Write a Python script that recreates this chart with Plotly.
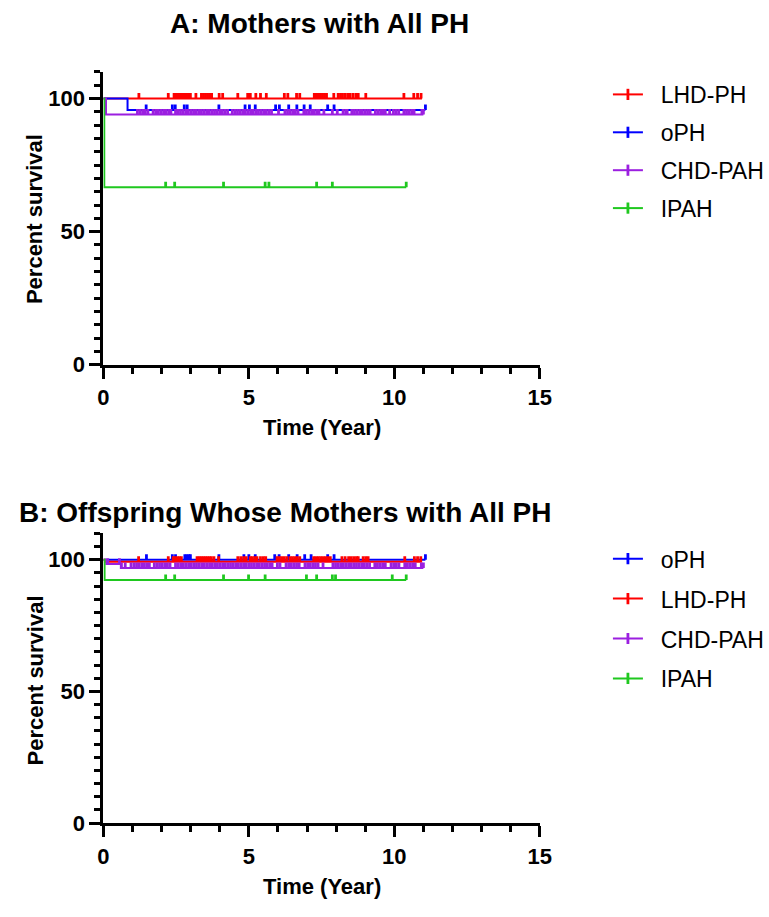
import plotly.graph_objects as go

W, H = 769, 917

# ---------------- data ----------------
# Panel A: Mothers with All PH  (step survival: event times / survival %)
A_LHD_t = [0, 10.95]
A_LHD_s = [100, 100]
A_LHD_c = [1.22, 2.23, 2.43, 2.50, 2.57, 2.64, 2.71, 2.78, 2.85, 2.92, 2.99, 3.18, 3.37, 3.44,
           3.51, 3.58, 3.65, 3.72, 3.98, 4.10, 4.62, 4.96, 5.05, 5.24, 5.40, 5.60, 6.22, 6.34,
           6.64, 6.75, 7.25, 7.32, 7.39, 7.46, 7.53, 7.60, 7.67, 7.92, 8.07, 8.15, 8.22, 8.31,
           8.40, 8.48, 8.58, 8.68, 8.76, 9.02, 10.33, 10.67, 10.80, 10.92]

A_oPH_t = [0, 0.83, 11.07]
A_oPH_s = [100, 95.7, 95.7]
A_oPH_c = [1.47, 2.37, 2.47, 2.78, 2.88, 3.97, 4.87, 5.02, 5.22, 5.92, 6.05, 6.37, 6.65, 6.90,
           7.11, 7.71, 7.93, 11.07]

A_CHD_t = [0, 0.09, 11.0]
A_CHD_s = [100, 94.0, 94.0]
A_CHD_c = [1.17, 1.26, 1.35, 1.44, 1.53, 1.71, 1.80, 1.89, 1.98, 2.07, 2.16, 2.25, 2.32, 2.48,
           2.56, 2.65, 2.74, 2.83, 2.92, 3.01, 3.10, 3.19, 3.28, 3.37, 3.46, 3.55, 3.64, 3.73,
           3.82, 3.91, 4.00, 4.09, 4.18, 4.27, 4.43, 4.52, 4.61, 4.70, 4.79, 4.88, 4.97, 5.06,
           5.15, 5.24, 5.33, 5.42, 5.51, 5.60, 5.69, 5.78, 6.02, 6.24, 6.33, 6.42, 6.51, 6.60,
           6.69, 6.89, 6.98, 7.07, 7.16, 7.25, 7.34, 7.41, 7.58, 7.87, 8.04, 8.24, 8.33, 8.38,
           8.54, 8.63, 8.72, 8.81, 8.90, 8.99, 9.08, 9.17, 9.35, 9.44, 9.53, 9.62, 9.69, 9.84,
           9.97, 10.06, 10.15, 10.33, 10.42, 10.51, 10.60, 10.68, 10.95, 11.00]

A_IPAH_t = [0, 0.03, 10.41]
A_IPAH_s = [100, 66.7, 66.7]
A_IPAH_c = [2.14, 2.45, 4.13, 5.56, 5.69, 7.33, 7.87, 10.41]

# Panel B: Offspring Whose Mothers with All PH
B_oPH_t = [0, 11.07]
B_oPH_s = [100, 100]
B_oPH_c = [1.48, 2.37, 2.48, 2.80, 2.87, 2.94, 2.99, 3.97, 4.83, 5.00, 5.22, 5.89, 6.04, 6.37,
           6.66, 6.92, 7.14, 7.71, 7.93, 11.07]

B_LHD_t = [0, 0.05, 10.95]
B_LHD_s = [100, 99.2, 99.2]
B_LHD_c = [1.21, 2.23, 2.40, 2.47, 2.54, 2.61, 2.68, 3.22, 3.29, 3.36, 3.43, 3.50, 3.57, 3.64,
           3.71, 3.80, 3.96, 4.62, 4.72, 4.82, 4.91, 5.05, 5.12, 5.20, 5.28, 5.40, 5.50, 5.58,
           5.97, 6.05, 6.13, 6.22, 6.31, 6.42, 6.50, 6.58, 6.66, 6.75, 7.23, 7.31, 7.39, 7.47,
           7.55, 7.63, 7.71, 7.80, 8.20, 8.31, 8.43, 8.52, 8.61, 8.70, 8.76, 8.93, 9.02, 9.10,
           10.36, 10.69, 10.80, 10.91]

B_CHD_t = [0, 0.10, 0.60, 11.0]
B_CHD_s = [100, 98.4, 96.8, 96.8]
B_CHD_c = [0.15, 0.55, 0.62, 0.75, 0.95, 1.05, 1.14, 1.23, 1.32, 1.41, 1.50, 1.58, 1.75, 1.84,
           1.93, 2.02, 2.11, 2.20, 2.29, 2.48, 2.57, 2.66, 2.75, 2.84, 2.93, 3.02, 3.11, 3.20,
           3.29, 3.38, 3.47, 3.56, 3.65, 3.74, 3.83, 3.92, 4.01, 4.10, 4.19, 4.28, 4.37, 4.46,
           4.55, 4.64, 4.73, 4.82, 4.91, 5.00, 5.09, 5.18, 5.27, 5.36, 5.45, 5.54, 5.63, 5.72,
           5.80, 5.98, 6.07, 6.28, 6.37, 6.46, 6.55, 6.64, 6.73, 6.93, 7.02, 7.11, 7.20, 7.29,
           7.38, 7.55, 7.89, 7.98, 8.07, 8.16, 8.25, 8.34, 8.43, 8.52, 8.61, 8.70, 8.79, 8.88,
           8.97, 9.06, 9.15, 9.33, 9.42, 9.51, 9.60, 9.69, 9.89, 9.98, 10.07, 10.16, 10.36, 10.45,
           10.54, 10.63, 10.72, 10.93, 11.00]

B_IPAH_t = [0, 0.04, 10.41]
B_IPAH_s = [100, 92.3, 92.3]
B_IPAH_c = [2.14, 2.45, 4.13, 4.99, 5.56, 6.98, 7.33, 7.87, 7.98, 9.93, 10.41]

TITLE_A = "A: Mothers with All PH"
TITLE_B = "B: Offspring Whose Mothers with All PH"
Y_TITLE = "Percent survival"
X_TITLE = "Time (Year)"

COLORS = {"LHD-PH": "#FF0000", "oPH": "#0000FF", "CHD-PAH": "#9B1FE0", "IPAH": "#1FC81F"}

FONT = "Arial, 'Liberation Sans', Helvetica, sans-serif"
PAD = "\u00a0\u00a0"


def surv_at(t, times, surv):
    val = surv[0]
    for ti, si in zip(times, surv):
        if ti <= t:
            val = si
    return val


fig = go.Figure()


def add_series(name, times, surv, cens, xa, ya, legend):
    col = COLORS[name]
    fig.add_trace(go.Scatter(x=times, y=surv, mode="lines", line=dict(color=col, width=2, shape="hv"),
                             xaxis=xa, yaxis=ya, showlegend=False, hoverinfo="skip"))
    fig.add_trace(go.Scatter(x=cens, y=[surv_at(c, times, surv) for c in cens], mode="markers",
                             marker=dict(size=0.1, color=col, opacity=0),
                             error_y=dict(type="constant", value=2.1, valueminus=0, symmetric=False,
                                          width=0, thickness=2.8, color=col),
                             xaxis=xa, yaxis=ya, showlegend=False, hoverinfo="skip"))
    fig.add_trace(go.Scatter(x=[None], y=[None], mode="lines+markers", name=PAD + name,
                             line=dict(color=col, width=2),
                             marker=dict(symbol="line-ns", size=8, line=dict(color=col, width=2.8)),
                             xaxis=xa, yaxis=ya, legend=legend, legendgroup=legend + name))


add_series("LHD-PH", A_LHD_t, A_LHD_s, A_LHD_c, "x", "y", "legend")
add_series("oPH", A_oPH_t, A_oPH_s, A_oPH_c, "x", "y", "legend")
add_series("CHD-PAH", A_CHD_t, A_CHD_s, A_CHD_c, "x", "y", "legend")
add_series("IPAH", A_IPAH_t, A_IPAH_s, A_IPAH_c, "x", "y", "legend")

add_series("oPH", B_oPH_t, B_oPH_s, B_oPH_c, "x2", "y2", "legend2")
add_series("LHD-PH", B_LHD_t, B_LHD_s, B_LHD_c, "x2", "y2", "legend2")
add_series("CHD-PAH", B_CHD_t, B_CHD_s, B_CHD_c, "x2", "y2", "legend2")
add_series("IPAH", B_IPAH_t, B_IPAH_s, B_IPAH_c, "x2", "y2", "legend2")


def px_x(p):
    return p / W


def px_y(p):
    return 1 - p / H


axis_common = dict(showline=True, linewidth=3, linecolor="black", showgrid=False, zeroline=False,
                   ticks="outside", tickwidth=3, ticklen=11, tickcolor="black",
                   tickfont=dict(family=FONT, size=22, color="black", weight="bold"))
minor_common = dict(ticklen=6, tickwidth=3, ticks="outside", tickcolor="black")

fig.update_layout(
    width=W, height=H, margin=dict(l=0, r=0, t=0, b=0),
    paper_bgcolor="white", plot_bgcolor="white",
    xaxis=dict(domain=[px_x(100), px_x(548)], anchor="y", range=[0, 15], dtick=5,
               minor=dict(dtick=1, **minor_common), **axis_common),
    yaxis=dict(domain=[px_y(370), px_y(73)], anchor="x", range=[0, 110], dtick=50,
               minor=dict(dtick=5, **minor_common), **axis_common),
    xaxis2=dict(domain=[px_x(100), px_x(548)], anchor="y2", range=[0, 15], dtick=5,
                minor=dict(dtick=1, **minor_common), **axis_common),
    yaxis2=dict(domain=[px_y(835), px_y(541)], anchor="x2", range=[0, 110], dtick=50,
                minor=dict(dtick=5, **minor_common), **axis_common),
    legend=dict(x=px_x(618), y=px_y(74), xanchor="left", yanchor="top",
                font=dict(family=FONT, size=23, color="black"), tracegroupgap=5,
                bgcolor="rgba(0,0,0,0)", itemwidth=30),
    legend2=dict(x=px_x(618), y=px_y(545), xanchor="left", yanchor="top",
                 font=dict(family=FONT, size=23, color="black"), tracegroupgap=7,
                 bgcolor="rgba(0,0,0,0)", itemwidth=30),
)

ann_font = dict(family=FONT, size=22, color="black", weight="bold")
title_font = dict(family=FONT, size=28, color="black", weight="bold")
annotations = [
    dict(text=TITLE_A, x=px_x(322), y=px_y(24), font=title_font),
    dict(text=TITLE_B, x=px_x(287), y=px_y(520), font=title_font),
    dict(text=Y_TITLE, x=px_x(30), y=px_y(222), font=ann_font, textangle=-90),
    dict(text=Y_TITLE, x=px_x(30), y=px_y(690), font=ann_font, textangle=-90),
    dict(text=X_TITLE, x=px_x(324), y=px_y(434), font=ann_font),
    dict(text=X_TITLE, x=px_x(324), y=px_y(899), font=ann_font),
]
for a in annotations:
    a.update(xref="paper", yref="paper", showarrow=False, xanchor="center", yanchor="middle")
fig.update_layout(annotations=annotations)

fig.write_html("out.html", config={"displayModeBar": False},
               post_script="document.body.style.margin='0px';")
